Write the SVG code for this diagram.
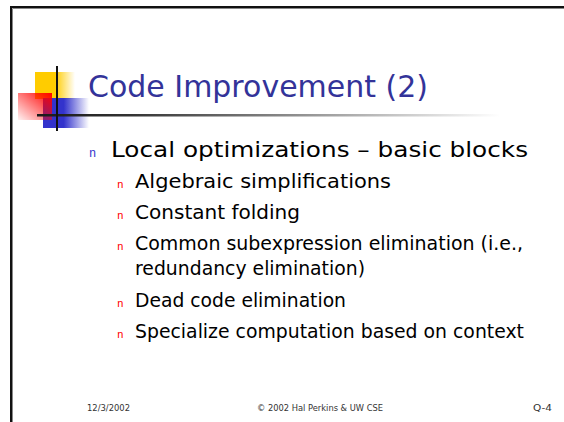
<svg xmlns="http://www.w3.org/2000/svg" width="564" height="422" viewBox="0 0 564 422">
  <defs>
    <linearGradient id="gYellow" x1="0" y1="0" x2="1" y2="0">
      <stop offset="0" stop-color="#FFCC00"/>
      <stop offset="0.5" stop-color="#FFCC00"/>
      <stop offset="1" stop-color="#FFCC00" stop-opacity="0"/>
    </linearGradient>
    <linearGradient id="gRed" x1="1" y1="0" x2="0" y2="1">
      <stop offset="0" stop-color="#FF0000"/>
      <stop offset="1" stop-color="#FF0000" stop-opacity="0.05"/>
    </linearGradient>
    <linearGradient id="gBlue" x1="0" y1="0" x2="1" y2="0">
      <stop offset="0" stop-color="#3333CC"/>
      <stop offset="0.45" stop-color="#3333CC"/>
      <stop offset="1" stop-color="#3333CC" stop-opacity="0"/>
    </linearGradient>
    <linearGradient id="gRule" gradientUnits="userSpaceOnUse" x1="37" y1="0" x2="500" y2="0">
      <stop offset="0" stop-color="#1a1a1a"/>
      <stop offset="0.2" stop-color="#333333"/>
      <stop offset="1" stop-color="#ffffff"/>
    </linearGradient>
  </defs>
  <style>
    .title { font-family: Tahoma, "DejaVu Sans", sans-serif; font-size: 30px; fill: #333399; }
    .l1 { font-family: Tahoma, "DejaVu Sans", sans-serif; font-size: 21px; fill: #000000; }
    .l2 { font-family: Tahoma, "DejaVu Sans", sans-serif; font-size: 20px; fill: #000000; }
    .b1 { font-family: "Liberation Mono", monospace; font-size: 12px; fill: #3333CC; }
    .b2 { font-family: "Liberation Mono", monospace; font-size: 11px; fill: #FF0000; }
    .foot { font-family: Tahoma, "DejaVu Sans", sans-serif; font-size: 9px; fill: #333333; }
  </style>

  <rect width="564" height="422" fill="#ffffff"/>

  <!-- slide frame -->
  <g id="frame">
    <path d="M11 422 V7 H564" fill="none" stroke="#111111" stroke-width="2"/>
    <path d="M12.5 422 V8.5 H564" fill="none" stroke="#888888" stroke-width="1"/>
  </g>

  <!-- corner logo -->
  <g id="logo">
    <rect x="35" y="72" width="40" height="27" fill="url(#gYellow)"/>
    <rect x="43" y="98" width="46" height="30" fill="url(#gBlue)"/>
    <rect x="18" y="93" width="34" height="27" fill="url(#gRed)"/>
    <rect x="37" y="114" width="463" height="2.5" fill="url(#gRule)"/>
    <rect x="56" y="66" width="2" height="65" fill="#111111"/>
  </g>

  <g id="title">
    <text class="title" x="88" y="97" textLength="340" lengthAdjust="spacingAndGlyphs">Code Improvement (2)</text>
  </g>

  <g id="bullets">
    <text class="b1" x="89" y="157">n</text>
    <text class="l1" x="111" y="157" textLength="417" lengthAdjust="spacingAndGlyphs">Local optimizations – basic blocks</text>

    <text class="b2" x="117" y="188">n</text>
    <text class="l2" x="135" y="188" textLength="256" lengthAdjust="spacingAndGlyphs">Algebraic simplifications</text>

    <text class="b2" x="117" y="219">n</text>
    <text class="l2" x="135" y="219" textLength="165" lengthAdjust="spacingAndGlyphs">Constant folding</text>

    <text class="b2" x="117" y="250">n</text>
    <text class="l2" x="135" y="250" textLength="388" lengthAdjust="spacingAndGlyphs">Common subexpression elimination (i.e.,</text>
    <text class="l2" x="135" y="275" textLength="230" lengthAdjust="spacingAndGlyphs">redundancy elimination)</text>

    <text class="b2" x="117" y="307">n</text>
    <text class="l2" x="135" y="307" textLength="211" lengthAdjust="spacingAndGlyphs">Dead code elimination</text>

    <text class="b2" x="117" y="338">n</text>
    <text class="l2" x="135" y="338" textLength="389" lengthAdjust="spacingAndGlyphs">Specialize computation based on context</text>
  </g>

  <g id="footer">
    <text class="foot" x="87" y="411" textLength="43" lengthAdjust="spacingAndGlyphs">12/3/2002</text>
    <text class="foot" x="257" y="411" textLength="126" lengthAdjust="spacingAndGlyphs">© 2002 Hal Perkins &amp; UW CSE</text>
    <text class="foot" x="533" y="411" textLength="19" lengthAdjust="spacingAndGlyphs">Q-4</text>
  </g>
</svg>
